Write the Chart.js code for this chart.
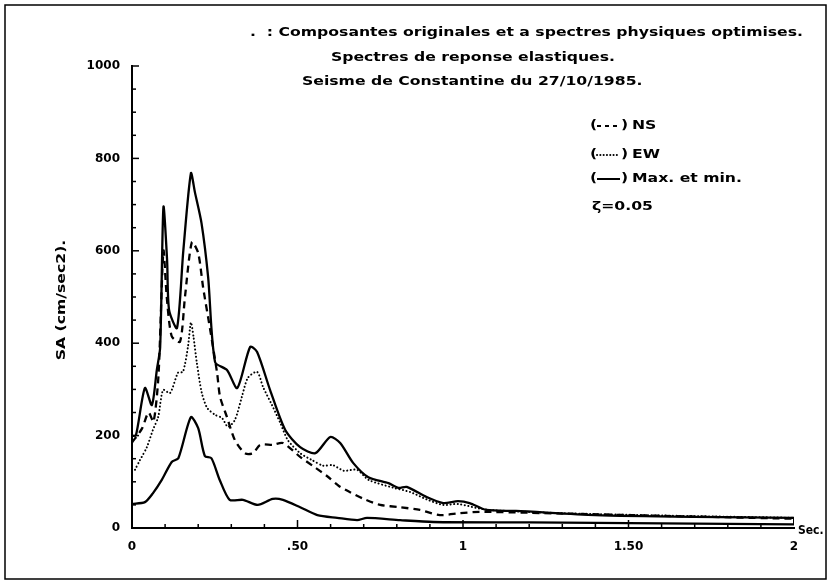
<!DOCTYPE html>
<html>
<head>
<meta charset="utf-8">
<script src="https://cdn.jsdelivr.net/npm/chart.js@4.4.0/dist/chart.umd.min.js"></script>
<style>
  html, body { margin: 0; padding: 0; background: #fff; }
</style>
</head>
<body>
<canvas id="myChart" width="831" height="586"></canvas>
<script>
// Spectres de reponse elastiques, amortissement 5 %
// Periodes en secondes, SA en cm/sec2
var periodesMax = [0, 0.012, 0.039, 0.06, 0.075, 0.085, 0.095, 0.106, 0.112, 0.136, 0.155, 0.178, 0.19, 0.21, 0.23, 0.251, 0.287, 0.318, 0.357, 0.378, 0.417, 0.463, 0.508, 0.554, 0.599, 0.629, 0.668, 0.714, 0.775, 0.805, 0.83, 0.89, 0.94, 0.985, 1.02, 1.07, 1.16, 1.4, 1.7, 2.0];
var saMax = [199, 201, 303, 266, 342, 390, 695, 580, 472, 433, 600, 768, 727, 660, 543, 359, 342, 303, 392, 381, 299, 212, 175, 162, 197, 184, 141, 110, 97, 87, 89, 67, 54, 58, 54, 39, 37, 28, 24, 22];

var periodesMin = [0, 0.039, 0.063, 0.09, 0.12, 0.14, 0.178, 0.2, 0.22, 0.24, 0.265, 0.295, 0.335, 0.38, 0.425, 0.456, 0.508, 0.56, 0.62, 0.68, 0.71, 0.81, 0.91, 1.2, 1.6, 2.0];
var saMin = [52, 56, 75, 104, 143, 151, 240, 216, 156, 151, 104, 61, 61, 50, 63, 61, 45, 28, 22, 17, 22, 17, 13, 12, 10, 8];

var periodesNS = [0, 0.03, 0.05, 0.065, 0.08, 0.095, 0.105, 0.12, 0.145, 0.16, 0.181, 0.2, 0.215, 0.236, 0.257, 0.266, 0.287, 0.311, 0.341, 0.366, 0.387, 0.426, 0.456, 0.508, 0.547, 0.59, 0.625, 0.66, 0.7, 0.75, 0.81, 0.87, 0.93, 0.99, 1.05, 1.2, 1.5, 2.0];
var saNS = [185, 215, 250, 230, 330, 600, 500, 415, 403, 500, 619, 595, 520, 430, 336, 284, 240, 190, 162, 162, 180, 180, 184, 154, 134, 112, 91, 77, 63, 50, 45, 39, 28, 32, 35, 33, 28, 20];

var periodesEW = [0.009, 0.024, 0.045, 0.063, 0.079, 0.094, 0.115, 0.139, 0.154, 0.169, 0.178, 0.186, 0.196, 0.211, 0.227, 0.251, 0.272, 0.29, 0.311, 0.332, 0.35, 0.378, 0.396, 0.423, 0.447, 0.471, 0.508, 0.544, 0.577, 0.607, 0.64, 0.68, 0.715, 0.79, 0.84, 0.89, 0.94, 0.985, 1.05, 1.1, 1.3, 1.6, 2.0];
var saEW = [126, 147, 175, 212, 240, 299, 292, 336, 338, 392, 445, 413, 357, 292, 260, 245, 238, 219, 234, 284, 325, 338, 305, 266, 229, 190, 162, 147, 135, 136, 124, 126, 104, 87, 78, 62, 50, 52, 42, 38, 32, 27, 22];

var graduationsX = [0, 0.5, 1, 1.5, 2];
var etiquettesX = ['0', '.50', '1', '1.50', '2'];
var pasY = 200;

var police = '"DejaVu Sans", sans-serif';

function points(xs, ys) {
    return xs.map((x, i) => ({ x: x, y: ys[i] }));
}

// fermeture verticale de l'enveloppe a la derniere periode
var tFin = periodesMax[periodesMax.length - 1];
var fermeture = [{ x: tFin, y: saMax[saMax.length - 1] }, { x: tFin, y: saMin[saMin.length - 1] }];

var decor = {
    id: 'decor',
    afterDraw(chart) {
        var ctx = chart.ctx, xs = chart.scales.x, ys = chart.scales.y;
        ctx.save();
        ctx.strokeStyle = '#000';
        ctx.fillStyle = '#000';

        function trait(x1, y1, x2, y2) {
            ctx.beginPath(); ctx.moveTo(x1, y1); ctx.lineTo(x2, y2); ctx.stroke();
        }

        // graduations tournees vers l'interieur
        ctx.lineWidth = 1.5;
        for (var v = 0; v <= 1000; v += 50) {
            var py = ys.getPixelForValue(v);
            trait(xs.left, py, xs.left + (v % 200 === 0 ? 7 : 4), py);
        }
        for (var k = 1; k < 20; k++) {
            var px = xs.getPixelForValue(k / 10);
            trait(px, ys.bottom, px, ys.bottom - (k % 5 === 0 ? 8 : 4));
        }

        // cadre
        ctx.lineWidth = 1.5;
        ctx.strokeRect(5, 5, 821, 574);

        // textes
        var titre1 = '.  : Composantes originales et a spectres physiques optimises.';
        ctx.font = 'bold 12px ' + police;
        var etir = 553 / ctx.measureText(titre1).width;

        function texte(s, x, y, align, e) {
            ctx.save();
            ctx.translate(x, y);
            ctx.scale(e || etir, 1);
            ctx.textBaseline = 'middle';
            ctx.textAlign = align || 'left';
            ctx.fillText(s, 0, 0);
            ctx.restore();
        }

        texte(titre1, 250, 33);
        texte('Spectres de reponse elastiques.', 331, 58);
        texte('Seisme de Constantine du 27/10/1985.', 302, 82);

        // legende
        function echantillon(y, tirets, libelle) {
            texte('(', 590, y);
            ctx.lineWidth = 2;
            ctx.lineCap = tirets[0] < 1 ? 'round' : 'butt';
            ctx.setLineDash(tirets);
            trait(597, y, 620, y);
            ctx.setLineDash([]);
            ctx.lineCap = 'butt';
            texte(')', 621, y);
            texte(libelle, 632, y);
        }
        echantillon(126, [4, 4], 'NS');
        echantillon(155, [0.1, 3.2], 'EW');
        echantillon(179, [], 'Max. et min.');
        texte('\u03b6=0.05', 592, 207);

        // titre de l'axe y
        ctx.save();
        ctx.translate(62, 300);
        ctx.rotate(-Math.PI / 2);
        texte('SA (cm/sec2).', 0, 0, 'center');
        ctx.restore();

        texte('Sec.', 798, 531, 'left', 0.9);
        ctx.restore();
    }
};

var ctx = document.getElementById('myChart').getContext('2d');
var myChart = new Chart(ctx, {
    type: 'line',
    data: {
        datasets: [{
            label: 'Max.',
            data: points(periodesMax, saMax),
            borderColor: '#000',
            borderWidth: 2.3
        }, {
            label: 'Min.',
            data: points(periodesMin, saMin),
            borderColor: '#000',
            borderWidth: 2.3
        }, {
            label: 'NS',
            data: points(periodesNS, saNS),
            borderColor: '#000',
            borderWidth: 2.3,
            borderDash: [7, 5]
        }, {
            label: 'EW',
            data: points(periodesEW, saEW),
            borderColor: '#000',
            borderWidth: 2,
            borderCapStyle: 'round',
            borderDash: [0.1, 3.5]
        }, {
            label: 'fermeture',
            data: fermeture,
            borderColor: '#000',
            borderWidth: 2,
            tension: 0
        }]
    },
    options: {
        responsive: false,
        animation: false,
        devicePixelRatio: 1,
        layout: { padding: { top: 66, right: 37, left: 0, bottom: 0 } },
        elements: {
            point: { radius: 0 },
            line: { tension: 0.25 }
        },
        plugins: {
            legend: { display: false },
            tooltip: { enabled: false }
        },
        scales: {
            x: {
                type: 'linear',
                min: 0,
                max: 2,
                afterFit: s => { s.height = 58; },
                afterBuildTicks: s => { s.ticks = graduationsX.map(v => ({ value: v })); },
                grid: { display: false, drawTicks: false },
                border: { display: true, color: '#000', width: 2 },
                ticks: {
                    color: '#000',
                    padding: 12,
                    maxRotation: 0,
                    autoSkip: false,
                    font: { family: police, weight: 'bold', size: 12 },
                    callback: (v, i) => etiquettesX[i]
                }
            },
            y: {
                min: 0,
                max: 1000,
                afterFit: s => { s.width = 132; },
                grid: { display: false, drawTicks: false },
                border: { display: true, color: '#000', width: 2 },
                ticks: {
                    stepSize: pasY,
                    color: '#000',
                    padding: 12,
                    font: { family: police, weight: 'bold', size: 12 },
                    callback: v => String(v)
                }
            }
        }
    },
    plugins: [decor]
});
</script>
</body>
</html>
